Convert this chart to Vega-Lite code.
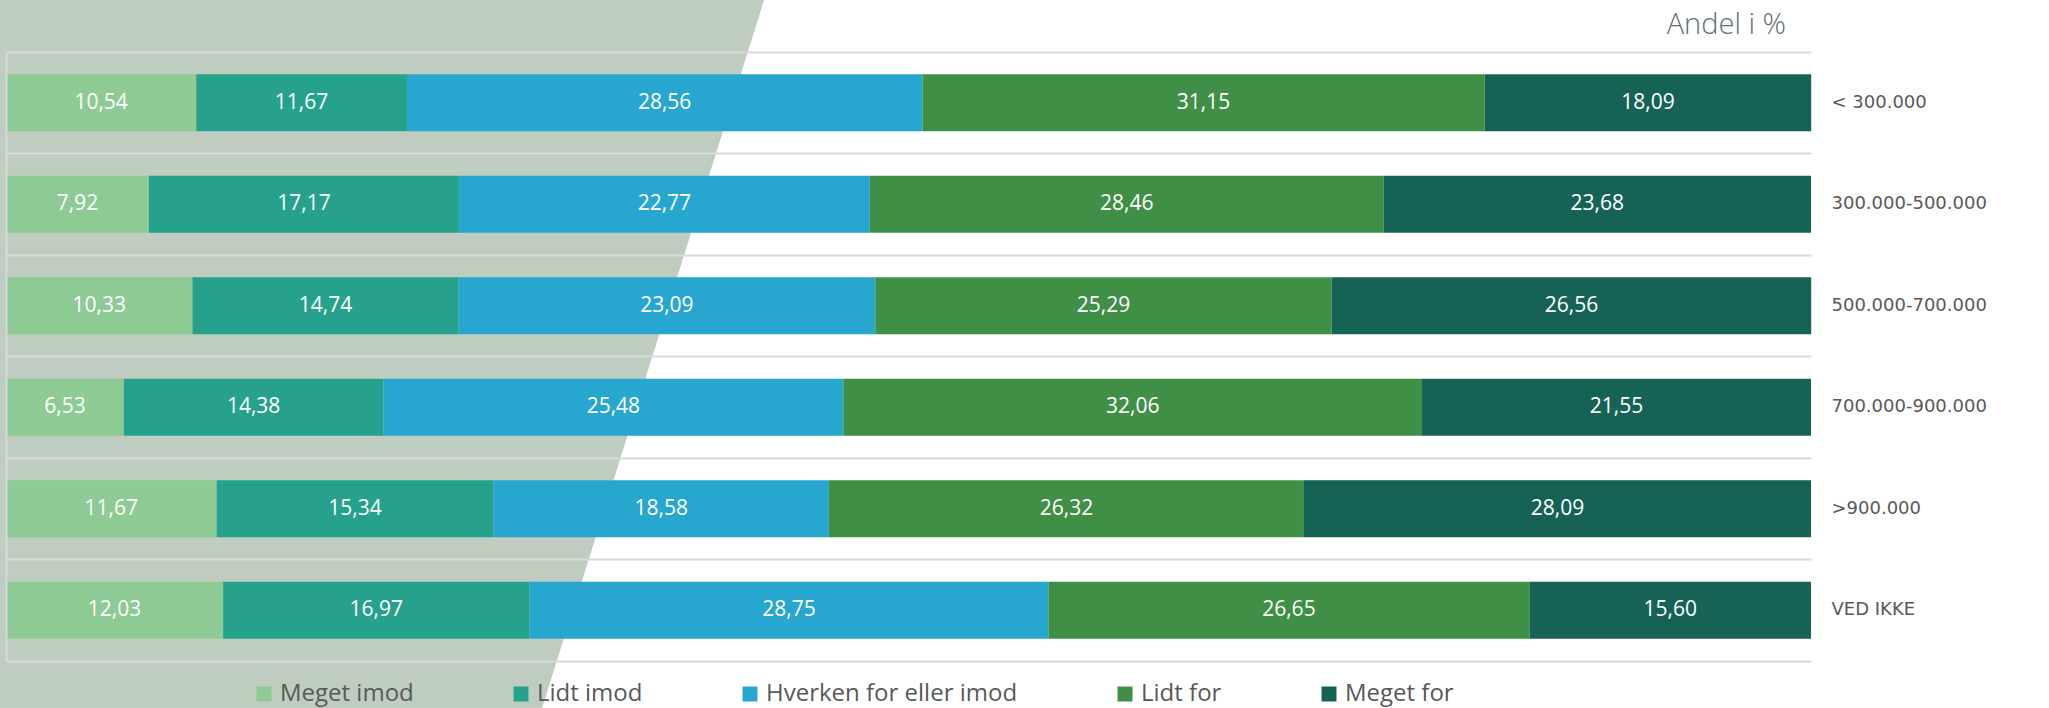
{
  "$schema": "https://vega.github.io/schema/vega-lite/v6.json",
  "width": 1805,
  "height": 609,
  "autosize": "none",
  "padding": {"left": 6, "top": 52, "right": 238, "bottom": 47},
  "background": "white",
  "config": {
    "view": {"stroke": null},
    "locale": {"number": {"decimal": ",", "thousands": ".", "grouping": [3], "currency": ["", " kr."]}}
  },
  "title": {
    "text": "Andel i %",
    "anchor": "end",
    "frame": "group",
    "orient": "top",
    "font": "Open Sans",
    "fontSize": 29,
    "fontWeight": 300,
    "color": "#5F6E78",
    "offset": -63,
    "baseline": "alphabetic",
    "dx": -25
  },
  "resolve": {"scale": {"y": "independent"}, "axis": {"y": "independent"}},
  "layer": [
    {
      "data": {"values": [
        {"v": 661, "a": -0.333, "b": 42.0},
        {"v": -47, "a": -0.333, "b": 29.7}
      ]},
      "mark": {"type": "area", "orient": "horizontal", "color": "#BFCDC0"},
      "encoding": {
        "y": {"field": "v", "type": "quantitative", "scale": {"domain": [0, 609], "nice": false, "zero": false}, "axis": null},
        "x": {"field": "a", "type": "quantitative", "scale": {"domain": [0, 100], "nice": false, "zero": false},
          "axis": {"orient": "bottom", "title": null, "labels": false, "ticks": false, "domain": true, "domainColor": "#D9D9D9", "domainWidth": 2, "grid": true, "values": [0], "gridColor": "#D9D9D9", "gridWidth": 2, "zindex": 1}},
        "x2": {"field": "b"}
      }
    },
    {
      "data": {"values": [
        {"group": "< 300.000", "resp": "Meget imod", "k": 1, "value": 10.54},
        {"group": "< 300.000", "resp": "Lidt imod", "k": 2, "value": 11.67},
        {"group": "< 300.000", "resp": "Hverken for eller imod", "k": 3, "value": 28.56},
        {"group": "< 300.000", "resp": "Lidt for", "k": 4, "value": 31.15},
        {"group": "< 300.000", "resp": "Meget for", "k": 5, "value": 18.09},
        {"group": "300.000-500.000", "resp": "Meget imod", "k": 1, "value": 7.92},
        {"group": "300.000-500.000", "resp": "Lidt imod", "k": 2, "value": 17.17},
        {"group": "300.000-500.000", "resp": "Hverken for eller imod", "k": 3, "value": 22.77},
        {"group": "300.000-500.000", "resp": "Lidt for", "k": 4, "value": 28.46},
        {"group": "300.000-500.000", "resp": "Meget for", "k": 5, "value": 23.68},
        {"group": "500.000-700.000", "resp": "Meget imod", "k": 1, "value": 10.33},
        {"group": "500.000-700.000", "resp": "Lidt imod", "k": 2, "value": 14.74},
        {"group": "500.000-700.000", "resp": "Hverken for eller imod", "k": 3, "value": 23.09},
        {"group": "500.000-700.000", "resp": "Lidt for", "k": 4, "value": 25.29},
        {"group": "500.000-700.000", "resp": "Meget for", "k": 5, "value": 26.56},
        {"group": "700.000-900.000", "resp": "Meget imod", "k": 1, "value": 6.53},
        {"group": "700.000-900.000", "resp": "Lidt imod", "k": 2, "value": 14.38},
        {"group": "700.000-900.000", "resp": "Hverken for eller imod", "k": 3, "value": 25.48},
        {"group": "700.000-900.000", "resp": "Lidt for", "k": 4, "value": 32.06},
        {"group": "700.000-900.000", "resp": "Meget for", "k": 5, "value": 21.55},
        {"group": ">900.000", "resp": "Meget imod", "k": 1, "value": 11.67},
        {"group": ">900.000", "resp": "Lidt imod", "k": 2, "value": 15.34},
        {"group": ">900.000", "resp": "Hverken for eller imod", "k": 3, "value": 18.58},
        {"group": ">900.000", "resp": "Lidt for", "k": 4, "value": 26.32},
        {"group": ">900.000", "resp": "Meget for", "k": 5, "value": 28.09},
        {"group": "VED IKKE", "resp": "Meget imod", "k": 1, "value": 12.03},
        {"group": "VED IKKE", "resp": "Lidt imod", "k": 2, "value": 16.97},
        {"group": "VED IKKE", "resp": "Hverken for eller imod", "k": 3, "value": 28.75},
        {"group": "VED IKKE", "resp": "Lidt for", "k": 4, "value": 26.65},
        {"group": "VED IKKE", "resp": "Meget for", "k": 5, "value": 15.60}
      ]},
      "encoding": {
        "y": {"field": "group", "type": "nominal",
          "sort": ["< 300.000", "300.000-500.000", "500.000-700.000", "700.000-900.000", ">900.000", "VED IKKE"],
          "scale": {"paddingInner": 0, "paddingOuter": 0},
          "axis": {"orient": "right", "title": null, "domain": false, "ticks": false, "grid": true, "gridColor": "#D9D9D9", "gridWidth": 2, "bandPosition": 0, "labelPadding": 20, "labelFont": "DejaVu Sans", "labelFontSize": 18, "labelColor": "#595959", "labelBaseline": "middle", "zindex": 1}},
        "x": {"field": "value", "type": "quantitative", "stack": "zero", "scale": {"domain": [0, 100], "nice": false, "zero": false},
          "axis": {"orient": "bottom", "title": null, "labels": false, "ticks": false, "domain": true, "domainColor": "#D9D9D9", "domainWidth": 2, "grid": true, "values": [0], "gridColor": "#D9D9D9", "gridWidth": 2, "zindex": 1}},
        "order": {"field": "k", "type": "quantitative"}
      },
      "layer": [
        {
          "mark": {"type": "bar", "height": {"band": 0.56}},
          "encoding": {
            "color": {"field": "resp", "type": "nominal",
              "scale": {"domain": ["Meget imod", "Lidt imod", "Hverken for eller imod", "Lidt for", "Meget for"],
                        "range": ["#8ECA93", "#26A18B", "#27A6D0", "#3F8F47", "#166355"]},
              "legend": {"orient": "none", "legendX": 246, "legendY": 630, "padding": 0, "direction": "horizontal", "title": null, "symbolType": "square", "symbolSize": 225, "symbolStrokeWidth": 0, "labelFont": "Open Sans", "labelFontSize": 24, "labelColor": "#595959", "columnPadding": 95, "labelLimit": 400}}
          }
        },
        {
          "mark": {"type": "text", "color": "white", "font": "Open Sans", "fontSize": 21, "align": "center", "baseline": "middle"},
          "encoding": {
            "x": {"field": "value", "type": "quantitative", "stack": "zero", "bandPosition": 0.5},
            "detail": {"field": "resp"},
            "text": {"field": "value", "type": "quantitative", "format": ".2f"}
          }
        }
      ]
    }
  ]
}
